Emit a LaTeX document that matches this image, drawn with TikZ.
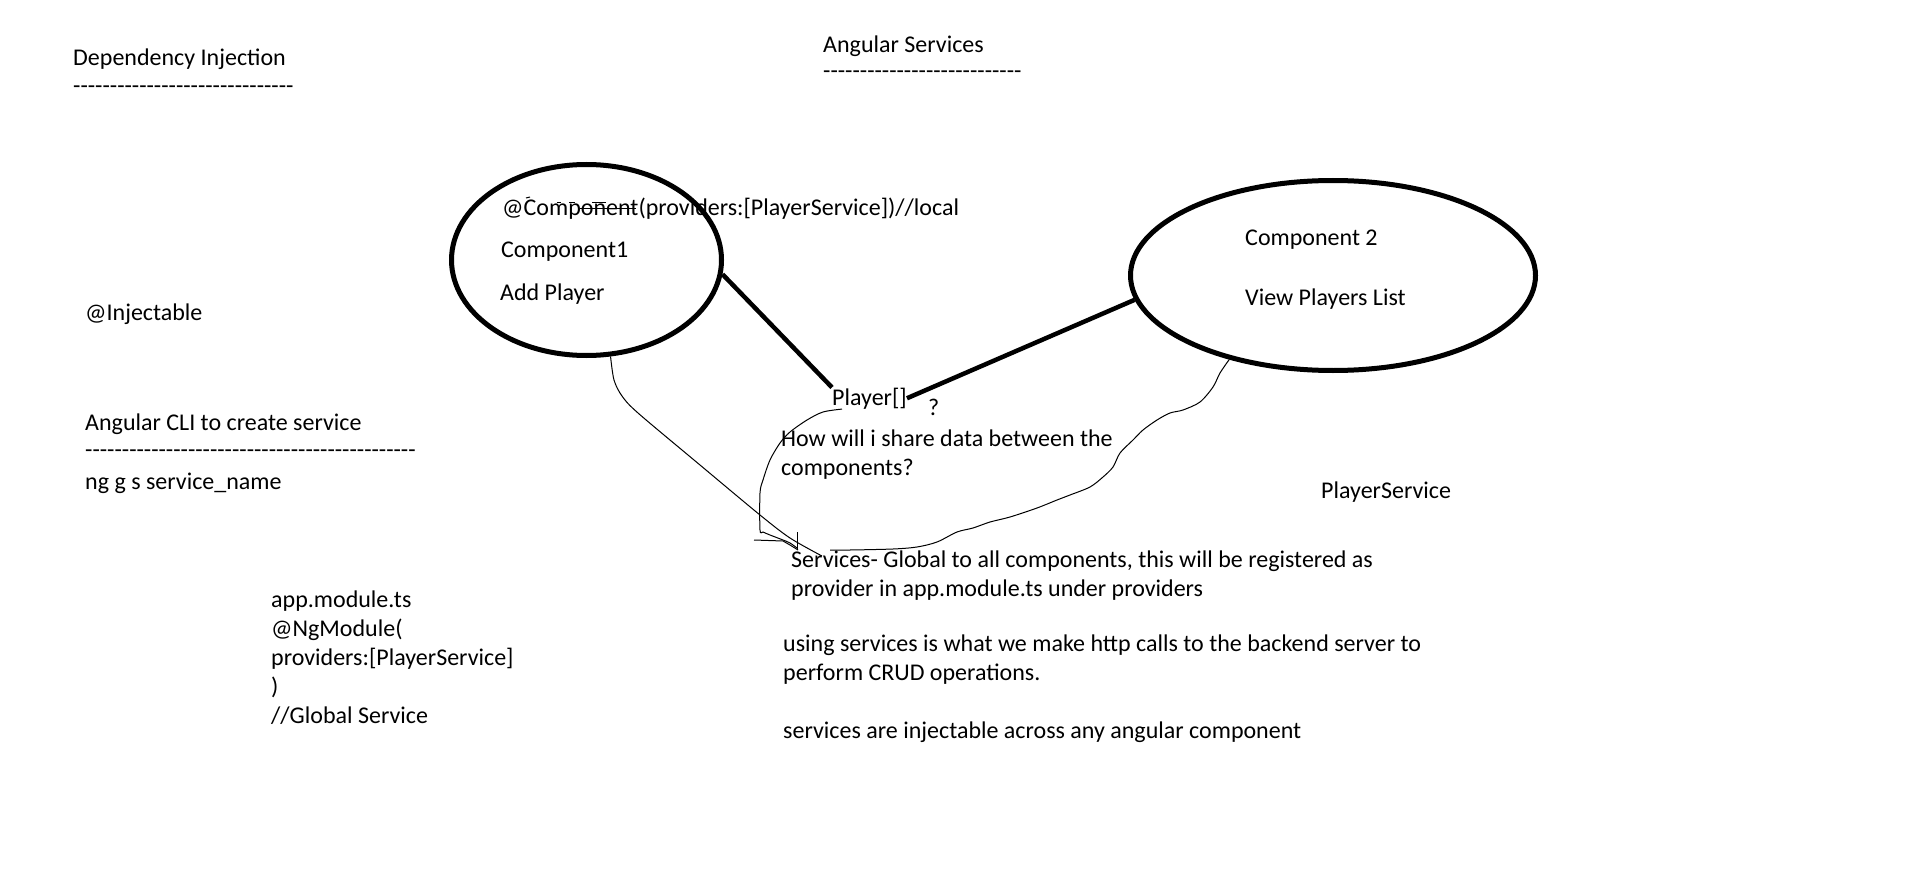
\documentclass[tikz,border=0pt]{standalone}
\usepackage{fontspec}
\setmainfont{Carlito}[Ligatures=TeXOff]
\usetikzlibrary{shapes.geometric}
\tikzset{x=1pt, y=-1pt,
  note text/.style={anchor=base west, inner sep=0pt, font=\fontsize{24}{29}\selectfont},
  comp oval/.style={ellipse, draw=black, line width=5pt, inner sep=0pt},
  link line/.style={draw=black, line width=4.5pt},
  scribble/.style={draw=black, line width=1pt}
}
\def\Note#1#2#3{\node[note text] (#1) at (#2) {#3};}

\begin{document}
\begin{tikzpicture}
\useasboundingbox[fill=white] (0,0) rectangle (1914,869);
% headings
\Note{di}{73,66}{Dependency Injection}
\Note{diline}{73,94}{------------------------------}
\Note{as}{823,53}{Angular Services}
\Note{asline}{823,79}{---------------------------}
\Note{inj}{85,320}{@Injectable}
\Note{cli}{85,430}{Angular CLI to create service}
\Note{cliline}{85,457}{---------------------------------------------}
\Note{ng}{85,489}{ng g s service\_name}
% app.module.ts block
\foreach \txt [count=\i from 0] in {app.module.ts, {@NgModule(}, {providers:[PlayerService]}, {)}, //Global Service}
  \node[note text] (mod\i) at (271,607+29*\i) {\txt};
% components
\node[comp oval, minimum width=270pt, minimum height=191pt] (comp1) at (586.5,260) {};
\node[comp oval, minimum width=405pt, minimum height=190pt] (comp2) at (1333,275.5) {};
\Note{local}{502,215}{@Component(providers:[PlayerService])//local}
\Note{c1}{501,258}{Component1}
\Note{add}{500,300}{Add Player}
\Note{c2}{1245,246}{Component 2}
\Note{view}{1245,305}{View Players List}
\Note{player}{832,405}{Player[]}
\Note{qmark}{928,415}{?}
\Note{ask}{781,446}{How will i share data between the}
\Note{ask2}{781,475}{components?}
\Note{ps}{1321,498}{PlayerService}
\Note{glob}{791,567}{Services- Global to all components, this will be registered as}
\Note{glob2}{791,596}{provider in app.module.ts under providers}
\Note{http}{783,651}{using services is what we make http calls to the backend server to}
\Note{http2}{783,680}{perform CRUD operations.}
\Note{inject}{783,738}{services are injectable across any angular component}
% links
\draw[link line] (comp1.354) -- (player.north west);
\draw[link line] (player.east) -- (comp2.187);
% scribbles
\draw[scribble] plot[smooth, tension=0.5] coordinates {(comp1.284) (614,380) (622,396) (638,413) (700,465) (760,515) (790,538) (822,556)};
\draw[scribble] plot[smooth, tension=0.5] coordinates {([xshift=10pt]player.south west) (823,412) (807,420) (790,432) (780,443) (770,460) (763,480) (760,493) (760,530) (763,532) (770,535) (783,540) (790,543) (797,548)};
\draw[scribble] plot[smooth, tension=0.5] coordinates {(comp2.219) (1220,373) (1213,387) (1200,402) (1183,410) (1170,413) (1157,420) (1143,430) (1133,440) (1120,453) (1113,467) (1103,477) (1090,487) (1070,495) (1057,500) (1037,508) (1010,517) (990,522) (973,528) (957,532) (937,542) (917,547) (893,549) (850,550) (830,550)};
\draw[scribble] (754,540) -- (783,541) -- (790,545) -- (798,550);
\draw[scribble] (797,532) -- (797,550);
% marks over the decorator text
\draw[scribble] (526,198) -- (530,197);
\draw[scribble] (557,203) -- (561,203) (569,203) -- (575,203) (592,203) -- (606,203);
\draw[scribble] (580,209) -- (636,209);
\end{tikzpicture}
\end{document}
